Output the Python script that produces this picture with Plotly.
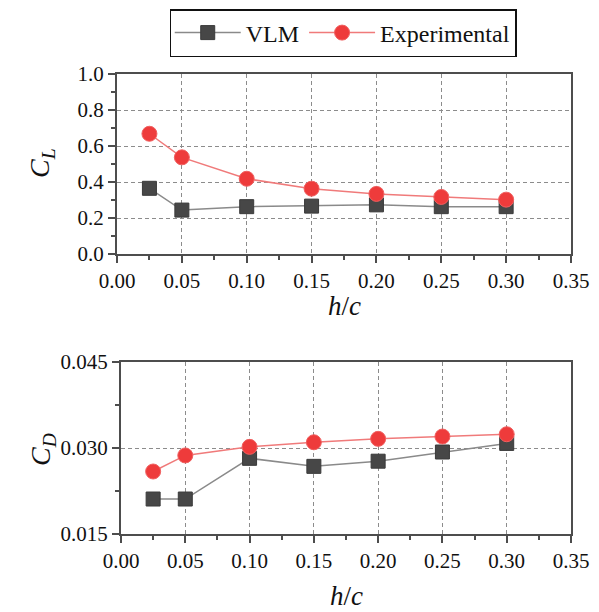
import plotly.graph_objects as go

h_c = [0.025, 0.05, 0.10, 0.15, 0.20, 0.25, 0.30]
cl_vlm = [0.365, 0.244, 0.263, 0.266, 0.273, 0.263, 0.263]
cl_exp = [0.668, 0.537, 0.418, 0.363, 0.334, 0.317, 0.302]
cd_vlm = [0.0211, 0.0211, 0.0282, 0.0268, 0.0277, 0.0293, 0.0308]
cd_exp = [0.0259, 0.0287, 0.0302, 0.0310, 0.0316, 0.0320, 0.0324]

x_ticks = [0.00, 0.05, 0.10, 0.15, 0.20, 0.25, 0.30, 0.35]
cl_ticks = [0.0, 0.2, 0.4, 0.6, 0.8, 1.0]
cd_ticks = [0.015, 0.030, 0.045]

FONT = "'Liberation Serif', 'Times New Roman', 'DejaVu Serif', serif"
AX = "#4d4d4d"
VLM_LINE = "#8a8a8a"
VLM_MARK = "#474747"
EXP_LINE = "#f07a7a"
EXP_MARK = "#ee3b3b"
GRID = "#8c8c8c"
DASH = "4px,3px"

fig = go.Figure()
for xa, ya, yv, ye, show in [("x", "y", cl_vlm, cl_exp, True), ("x2", "y2", cd_vlm, cd_exp, False)]:
    fig.add_trace(go.Scatter(x=h_c, y=yv, name="VLM", mode="lines+markers", xaxis=xa, yaxis=ya,
                             line=dict(color=VLM_LINE, width=1.5),
                             marker=dict(symbol="square", size=14, color=VLM_MARK,
                                         line=dict(color="#3a3a3a", width=1)),
                             showlegend=show, legendgroup="vlm"))
    fig.add_trace(go.Scatter(x=h_c, y=ye, name="Experimental", mode="lines+markers", xaxis=xa, yaxis=ya,
                             line=dict(color=EXP_LINE, width=1.5),
                             marker=dict(symbol="circle", size=15, color=EXP_MARK,
                                         line=dict(color="#f06060", width=1)),
                             showlegend=show, legendgroup="exp"))

W, H = 599, 612

def xdom(l, r):
    return [l / W, r / W]

def ydom(b, t):
    return [1 - b / H, 1 - t / H]

tfont = dict(family=FONT, size=21, color="#111")

common_x = dict(range=[0, 0.35], tickvals=x_ticks, ticktext=[f"{v:.2f}" for v in x_ticks],
                showline=True, mirror=True, linecolor=AX, linewidth=2,
                ticks="outside", ticklen=7, tickwidth=2, tickcolor=AX,
                minor=dict(dtick=0.025, tick0=0, ticks="outside", ticklen=4, tickwidth=1.5, tickcolor=AX, showgrid=False),
                showgrid=True, gridcolor=GRID, griddash=DASH, gridwidth=1,
                zeroline=False, automargin=False, tickfont=tfont)

fig.update_layout(
    template="none",
    width=W, height=H,
    margin=dict(l=0, r=0, t=0, b=0, pad=0, autoexpand=False),
    paper_bgcolor="white", plot_bgcolor="white",
    font=dict(family=FONT, color="#111"),
    xaxis=dict(domain=xdom(117, 571), anchor="y", **common_x),
    yaxis=dict(domain=ydom(254, 74), anchor="x", range=[0, 1], tickvals=cl_ticks,
               ticktext=[f"{v:.1f}" for v in cl_ticks],
               showline=True, mirror=True, linecolor=AX, linewidth=2,
               ticks="outside", ticklen=7, tickwidth=2, tickcolor=AX,
               minor=dict(dtick=0.1, tick0=0, ticks="outside", ticklen=4, tickwidth=1.5, tickcolor=AX, showgrid=False),
               showgrid=True, gridcolor=GRID, griddash=DASH, gridwidth=1,
               zeroline=False, automargin=False, tickfont=tfont),
    xaxis2=dict(domain=xdom(121, 571), anchor="y2", **common_x),
    yaxis2=dict(domain=ydom(534, 362), anchor="x2", range=[0.015, 0.045], tickvals=cd_ticks,
                ticktext=[f"{v:.3f}" for v in cd_ticks],
                showline=True, mirror=True, linecolor=AX, linewidth=2,
                ticks="outside", ticklen=7, tickwidth=2, tickcolor=AX,
                minor=dict(dtick=0.0075, tick0=0.015, ticks="outside", ticklen=4, tickwidth=1.5, tickcolor=AX, showgrid=False),
                showgrid=True, gridcolor=GRID, griddash=DASH, gridwidth=1,
                zeroline=False, automargin=False, tickfont=tfont),
    legend=dict(orientation="h", x=0.573, xanchor="center", y=1 - 9 / H, yanchor="top",
                bordercolor="#111", borderwidth=1.5, bgcolor="white",
                font=dict(family=FONT, size=24, color="#111"),
                itemwidth=66, tracegroupgap=0),
    annotations=[
        dict(text="<i>C</i><sub><i>L</i></sub>", xref="paper", yref="paper", x=42 / W, y=1 - 163 / H,
             xanchor="center", yanchor="middle", textangle=-90, showarrow=False,
             font=dict(family=FONT, size=28, color="#111")),
        dict(text="<i>C</i><sub><i>D</i></sub>", xref="paper", yref="paper", x=42 / W, y=1 - 450 / H,
             xanchor="center", yanchor="middle", textangle=-90, showarrow=False,
             font=dict(family=FONT, size=28, color="#111")),
        dict(text="<i>h</i>/<i>c</i>", xref="paper", yref="paper", x=344 / W, y=1 - 306 / H,
             xanchor="center", yanchor="middle", showarrow=False,
             font=dict(family=FONT, size=27, color="#111")),
        dict(text="<i>h</i>/<i>c</i>", xref="paper", yref="paper", x=346 / W, y=1 - 596 / H,
             xanchor="center", yanchor="middle", showarrow=False,
             font=dict(family=FONT, size=27, color="#111")),
    ],
)

fig.write_html("out.html")
